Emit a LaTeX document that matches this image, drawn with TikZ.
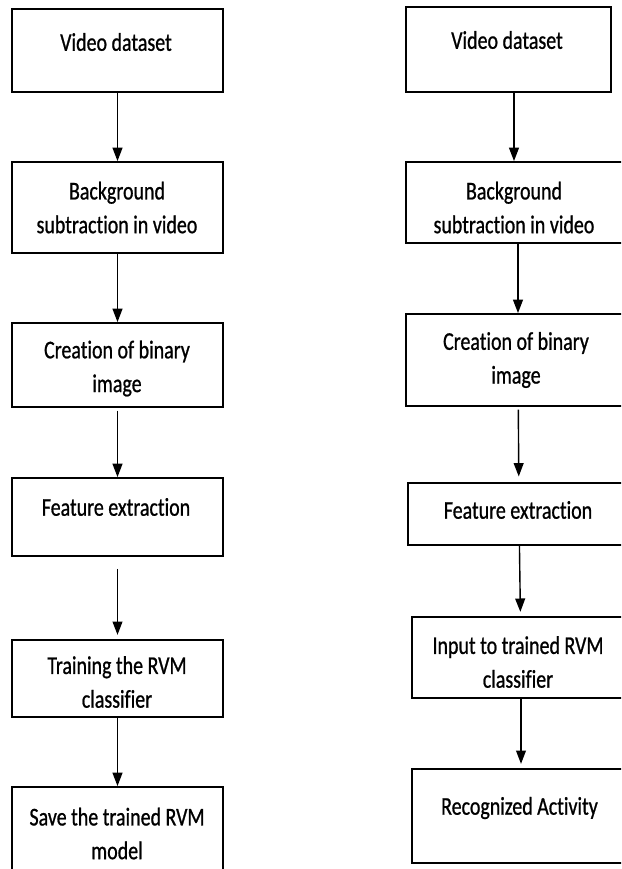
\documentclass[tikz,border=0pt]{standalone}
\usepackage{fontspec}
\setmainfont{Carlito}[FakeStretch=0.78, FakeBold=0.8, Ligatures=NoCommon]
\usetikzlibrary{arrows.meta}

\begin{document}
\begin{tikzpicture}[
    x=0.025cm, y=-0.025cm,
    stepbox/.style={rectangle, draw, line width=1.3pt, inner sep=0pt},
    txt/.style={align=center, inner sep=0pt, font=\fontsize{18.2}{24}\selectfont},
    arr/.style={-{Triangle[length=9.5pt, width=7pt]}, line width=1pt}
]
    \clip (0,0) rectangle (621,869);

    % training flow
    \node[stepbox, minimum width=5.275cm, minimum height=2.075cm] (l1) at (117.5,50.5) {};
    \node[stepbox, minimum width=5.275cm, minimum height=2.275cm] (l2) at (117.5,207.5) {};
    \node[stepbox, minimum width=5.275cm, minimum height=2.1cm] (l3) at (117.5,365) {};
    \node[stepbox, minimum width=5.275cm, minimum height=1.95cm] (l4) at (117.5,517) {};
    \node[stepbox, minimum width=5.275cm, minimum height=1.925cm] (l5) at (117.5,678.5) {};
    \node[stepbox, minimum width=5.275cm, minimum height=2.325cm] (l6) at (117.5,833.5) {};

    \node[txt] (l1t) at (116,42) {Video dataset};
    \node[txt] (l2t) at (117,207.5) {Background\\subtraction in video};
    \node[txt] (l3t) at (117,368.5) {Creation of binary\\image};
    \node[txt] (l4t) at (116,507) {Feature extraction};
    \node[txt] (l5t) at (117,682) {Training the RVM\\classifier};
    \node[txt] (l6t) at (117,833.5) {Save the trained RVM\\model};

    \draw[arr] (l1) -- (l2);
    \draw[arr] (l2) -- (l3);
    \draw[arr, shorten <=2pt] (l3) -- (l4);
    \draw[arr, shorten <=8.5pt, shorten >=3pt] (l4) -- (l5);
    \draw[arr] (l5) -- (l6);

    % recognition flow
    \node[stepbox, minimum width=5.125cm, minimum height=2.125cm] (r1) at (508.5,49.5) {};
    \node[stepbox, minimum width=5.6cm, minimum height=2.025cm] (r2) at (518,202.5) {};
    \node[stepbox, minimum width=5.6cm, minimum height=2.3cm] (r3) at (518,360) {};
    \node[stepbox, minimum width=5.55cm, minimum height=1.55cm] (r4) at (519,514) {};
    \node[stepbox, minimum width=5.45cm, minimum height=2.025cm] (r5) at (521,657.5) {};
    \node[stepbox, minimum width=5.45cm, minimum height=2.35cm] (r6) at (521,816) {};

    \node[txt] (r1t) at (507,40) {Video dataset};
    \node[txt] (r2t) at (514,207.5) {Background\\subtraction in video};
    \node[txt] (r3t) at (516,360) {Creation of binary\\image};
    \node[txt] (r4t) at (518,510) {Feature extraction};
    \node[txt] (r5t) at (518,662) {Input to trained RVM\\classifier};
    \node[txt] (r6t) at (519.5,808) {Recognized Activity};

    \draw[arr] (r1.south -| r2t) -- (r2t |- r2.north);
    \draw[arr] (r2) -- (r3);
    \draw[arr, shorten <=2pt, shorten >=4pt] (r3) -- (r4);
    \draw[arr, shorten >=3pt] (r4) -- (r5);
    \draw[arr, shorten >=3pt] (r5) -- (r6);
\end{tikzpicture}
\end{document}
